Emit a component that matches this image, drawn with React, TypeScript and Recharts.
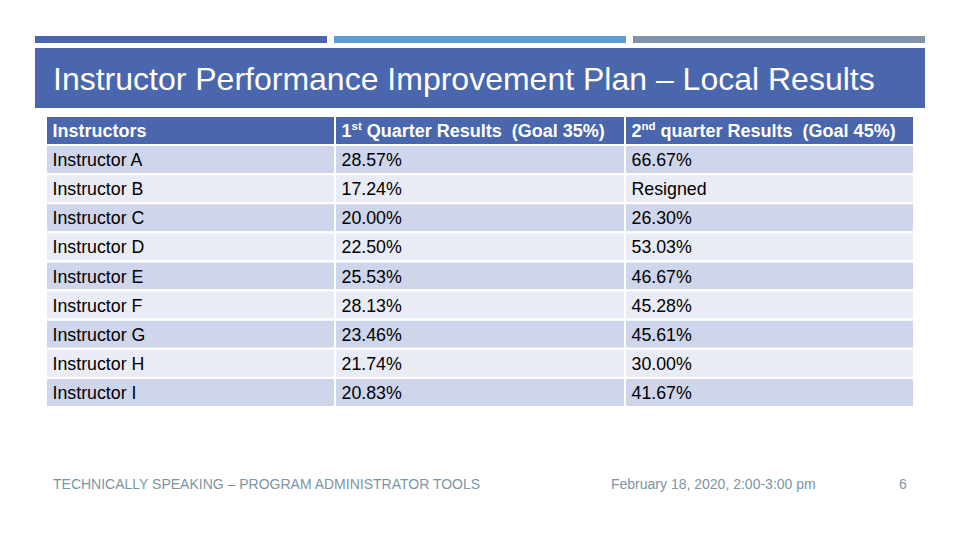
import React from 'react';
import { BarChart, Bar, XAxis, YAxis, Cell, LabelList } from 'recharts';

const titleText = 'Instructor Performance Improvement Plan – Local Results';
const footerLeft = 'TECHNICALLY SPEAKING – PROGRAM ADMINISTRATOR TOOLS';
const footerDate = 'February 18, 2020, 2:00-3:00 pm';
const pageNumber = '6';

const headerLabels = ['Instructors', '1st Quarter Results  (Goal 35%)', '2nd quarter Results  (Goal 45%)'];
const instructors = [
  'Instructor A', 'Instructor B', 'Instructor C', 'Instructor D', 'Instructor E',
  'Instructor F', 'Instructor G', 'Instructor H', 'Instructor I',
];
const q1Results = ['28.57%', '17.24%', '20.00%', '22.50%', '25.53%', '28.13%', '23.46%', '21.74%', '20.83%'];
const q2Results = ['66.67%', 'Resigned', '26.30%', '53.03%', '46.67%', '45.28%', '45.61%', '30.00%', '41.67%'];

// relative column spans of the table
const columnSpans = [289, 290, 289];

const FONT = '"Liberation Sans", Arial, sans-serif';
const HEADER_BG = '#4a66ac';
const BAND1 = '#cfd5ea';
const BAND2 = '#e9ebf5';

const rows = [
  { key: 'header', c1: columnSpans[0], c2: columnSpans[1], c3: columnSpans[2], t1: headerLabels[0], t2: headerLabels[1], t3: headerLabels[2] },
  ...instructors.map((name, i) => ({
    key: name, c1: columnSpans[0], c2: columnSpans[1], c3: columnSpans[2], t1: name, t2: q1Results[i], t3: q2Results[i],
  })),
];

const fillFor = (i: number) => (i === 0 ? HEADER_BG : i % 2 === 1 ? BAND1 : BAND2);

const renderCellText = (props: any) => {
  const { x, y, width, height, value } = props;
  const isHeader = headerLabels.includes(value);
  const tx = Number(x) + 6.5;
  const ty = Number(y) + Number(height) / 2 + 6.5;
  const str = String(value);
  const m = str.match(/^(\d)(st|nd|rd|th)(.*)$/);
  const common = {
    x: tx,
    y: ty,
    fontFamily: FONT,
    fontSize: isHeader ? 18 : 17.8,
    fontWeight: isHeader ? 700 : 400,
    fill: isHeader ? '#ffffff' : '#000000',
    style: { whiteSpace: 'pre' as const },
  };
  if (m) {
    return (
      <text {...common}>
        <tspan>{m[1]}</tspan>
        <tspan dy={-7} fontSize={11.5}>{m[2]}</tspan>
        <tspan dy={7}>{m[3]}</tspan>
      </text>
    );
  }
  return <text {...common}>{str}</text>;
};

export default function App() {
  const total = columnSpans.reduce((a, b) => a + b, 0);
  return (
    <div style={{ position: 'absolute', left: 0, top: 0, width: 960, height: 540, background: '#ffffff', overflow: 'hidden', fontFamily: FONT }}>
      {/* top accent bars */}
      <div style={{ position: 'absolute', left: 35, top: 36, width: 292, height: 7, background: '#4a66ac' }} />
      <div style={{ position: 'absolute', left: 334, top: 36, width: 292, height: 7, background: '#5e9cd3' }} />
      <div style={{ position: 'absolute', left: 633, top: 36, width: 292, height: 7, background: '#8393ae' }} />
      {/* title band */}
      <div style={{ position: 'absolute', left: 35, top: 48, width: 890, height: 60, background: HEADER_BG }} />
      <div style={{ position: 'absolute', left: 53, top: 61, color: '#ffffff', fontSize: 32, lineHeight: '36px', whiteSpace: 'nowrap' }}>
        {titleText}
      </div>

      <div style={{ position: 'absolute', left: 0, top: 0 }}>
        <BarChart
          width={960}
          height={540}
          data={rows}
          layout="vertical"
          margin={{ top: 116, right: 46, bottom: 133, left: 46 }}
          barCategoryGap={0}
        >
          <XAxis type="number" domain={[0, total]} hide />
          <YAxis type="category" dataKey="key" hide />
          {(['c1', 'c2', 'c3'] as const).map((k, ci) => (
            <Bar key={k} dataKey={k} stackId="row" isAnimationActive={false} stroke="#ffffff" strokeWidth={2}>
              {rows.map((r, i) => (
                <Cell key={r.key} fill={fillFor(i)} />
              ))}
              <LabelList dataKey={`t${ci + 1}`} content={renderCellText} />
            </Bar>
          ))}
        </BarChart>
      </div>

      {/* footer */}
      <div style={{ position: 'absolute', left: 53, top: 476, color: '#7a95a5', fontSize: 14, lineHeight: '16px', whiteSpace: 'nowrap' }}>
        {footerLeft}
      </div>
      <div style={{ position: 'absolute', left: 611, top: 476, color: '#7a95a5', fontSize: 14, lineHeight: '16px', whiteSpace: 'nowrap' }}>
        {footerDate}
      </div>
      <div style={{ position: 'absolute', left: 899, top: 476, color: '#7a95a5', fontSize: 14, lineHeight: '16px', whiteSpace: 'nowrap' }}>
        {pageNumber}
      </div>
    </div>
  );
}
